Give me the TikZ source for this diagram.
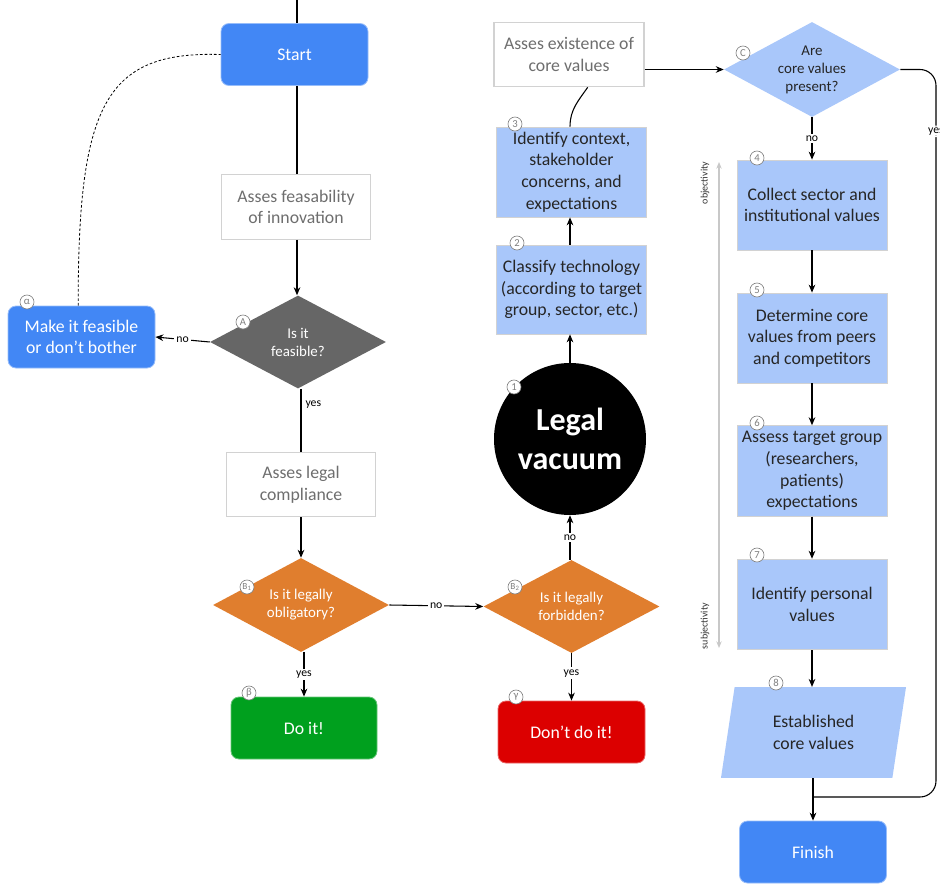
\documentclass[tikz,border=0pt]{standalone}
\usepackage{fontspec}
\setmainfont{Carlito}
\usetikzlibrary{shapes.geometric,arrows.meta,calc}
\definecolor{bblue}{RGB}{66,135,245}
\definecolor{lblue}{RGB}{169,199,250}
\definecolor{dgray}{RGB}{102,102,102}
\definecolor{orng}{RGB}{224,126,46}
\definecolor{grn}{RGB}{0,160,30}
\definecolor{rd}{RGB}{220,0,0}
\definecolor{bord}{RGB}{210,210,210}
\definecolor{gtext}{RGB}{110,110,110}
\definecolor{axisc}{RGB}{200,200,200}
\tikzset{
  base/.style={font=\fontsize{13.3}{16.2}\selectfont, align=center, inner sep=0pt},
  term/.style={base, rectangle, rounded corners=6pt, fill=bblue, draw=bblue!55!white, line width=0.6pt, text=white, minimum width=110.25pt, minimum height=46.5pt},
  plainbox/.style={base, rectangle, draw=bord, fill=white, line width=0.8pt, text=gtext, minimum width=112pt, minimum height=48.5pt},
  proc/.style={base, rectangle, fill=lblue, draw=bord, line width=0.6pt, text=black!85, minimum width=112.5pt, minimum height=67.5pt},
  dia/.style={base, diamond, aspect=1.9, minimum width=132pt, minimum height=70pt, draw=none, font=\fontsize{11.2}{13.5}\selectfont},
  arr/.style={-{Stealth[length=6pt,width=5pt]}, line width=0.8pt},
  ln/.style={line width=0.8pt},
  lbl/.style={font=\fontsize{8.8}{9}\selectfont, fill=white, inner sep=1.5pt},
  num/.style={circle, draw=gray, fill=white, text=gray, inner sep=0pt, minimum size=10.5pt, line width=0.5pt, font=\fontsize{8}{8}\selectfont},
  axlbl/.style={font=\fontsize{7.5}{7.5}\selectfont, rotate=90, text=black!80},
}
\begin{document}
\begin{tikzpicture}[x=0.75pt,y=-0.75pt]
\useasboundingbox (0,0) rectangle (940,885);

% left column
\node[term] (start) at (294.5,54.5) {Start};
\node[plainbox] (feas) at (296,207) {Asses feasability\\of innovation};
\node[dia, fill=dgray, text=white, minimum width=132pt, minimum height=69.75pt] (A) at (298,342) {Is it\\feasible?};
\node[term] (alpha) at (81.5,337) {Make it feasible\\or don’t bother};
\node[plainbox] (legal) at (301,484.5) {Asses legal\\compliance};
\node[dia, fill=orng, text=white, minimum height=70.5pt] (B1) at (301,605) {Is it legally\\obligatory?};
\node[term, fill=grn, draw=grn!60!white, minimum width=109.5pt] (doit) at (304,728) {Do it!};

% middle column
\node[dia, fill=orng, text=white, minimum height=69.75pt] (B2) at (571.5,606.5) {Is it legally\\forbidden?};
\node[term, fill=rd, draw=rd!60!white] (dont) at (571.5,732) {Don’t do it!};
\node[circle, fill=black, text=white, minimum size=114pt, inner sep=0pt, align=center,
      font=\fontsize{24}{29}\selectfont\bfseries] (vac) at (570,439) {Legal\\vacuum};
\node[proc, minimum width=113pt, minimum height=66.75pt] (c2) at (571.5,289.5) {Classify technology\\(according to target\\group, sector, etc.)};
\node[proc, minimum width=113pt] (c3) at (571.5,172) {Identify context,\\stakeholder\\concerns, and\\expectations};
\node[plainbox, minimum width=112.5pt] (exist) at (569,54.5) {Asses existence of\\core values};

% right column
\node[dia, fill=lblue, text=black!85, minimum height=71.25pt] (C) at (812,69.5) {Are\\core values\\present?};
\node[proc] (c4) at (812,205) {Collect sector and\\institutional values};
\node[proc] (c5) at (812,338) {Determine core\\values from peers\\and competitors};
\node[proc, minimum height=68pt] (c6) at (812,471) {Assess target group\\(researchers,\\patients)\\expectations};
\node[proc, minimum height=68pt] (c7) at (812,604.5) {Identify personal\\values};
\node[base, trapezium, trapezium left angle=68.2, trapezium right angle=111.8, trapezium stretches body,
      fill=lblue, draw=none, text=black!85, minimum width=138.75pt, minimum height=68pt] (est) at (813.5,732.5) {Established\\core values};
\node[term] (finish) at (813,852) {Finish};

% coordinates
\coordinate (top) at (297,0);
\coordinate (rx) at (936,0);
\coordinate (join) at (813,797);
\coordinate (objT) at (719,162);
\coordinate (objB) at (719,648);

% connectors, left column
\draw[ln] (top) -- (top |- start.north);
\draw[ln] (top |- start.south) -- (top |- feas.north);
\draw[arr] (top |- feas.south) -- (top |- A.north);
\draw[arr] (A.west) -- node[lbl]{no} (alpha.east);
\draw[ln, line width=0.6pt, dash pattern=on 2pt off 1.5pt] ([xshift=-2.5pt]alpha.north) .. controls (78,105) and (105,51) .. (start.west);
\draw[ln] (A.south -| legal.north) -- node[pos=0.25, right, font=\fontsize{8.8}{9}\selectfont, inner sep=3pt]{yes} (legal.north);
\draw[arr] (legal.south) -- (B1.north);
\draw[arr] (B1.south -| doit.north) -- node[lbl]{yes} (doit.north);
\draw[arr] (B1.east) -- node[lbl]{no} (B2.west);

% middle column
\draw[arr] (B2.south -| dont.north) -- node[lbl, pos=0.42]{yes} (dont.north);
\draw[arr] (B2.north -| vac.south) -- node[lbl]{no} (vac.south);
\draw[arr] (vac.north) -- (vac.north |- c2.south);
\draw[arr] (c2.north -| vac.north) -- (vac.north |- c3.south);
\draw[ln] (c3.north -| vac.north) to[out=90, in=235] ([xshift=14pt]exist.south);
\draw[arr] (exist.east |- C.west) -- (C.west);

% right column
\draw[arr] (C.south) -- node[lbl]{no} (c4.north);
\draw[arr] (c4.south) -- (c5.north);
\draw[arr] (c5.south) -- (c6.north);
\draw[arr] (c6.south) -- (c7.north);
\draw[arr] (c7.south) -- (c7.south |- est.north);
\draw[arr] (join |- est.south) -- (finish.north);
\draw[ln, rounded corners=12pt] (C.east) -- (C.east -| rx) -- node[lbl, pos=0.085]{yes} (rx |- join) -- (join);

% objectivity / subjectivity axis
\draw[axisc, line width=0.8pt, {Stealth[length=5pt,width=4pt]}-{Stealth[length=5pt,width=4pt]}] (objT) -- (objB);
\node[axlbl] (objl) at (705,183) {objectivity};
\node[axlbl] (subl) at (705,626) {subjectivity};

% numbered markers
\node[num] (nalpha) at (27,302) {α};
\node[num] (nA) at (243,322) {A};
\node[num, font=\fontsize{7}{7}\selectfont] (nB1) at (247,587) {B\textsubscript{1}};
\node[num, font=\fontsize{7}{7}\selectfont] (nB2) at (515,587) {B\textsubscript{2}};
\node[num] (nbeta) at (249,693) {β};
\node[num] (ngamma) at (516,697) {γ};
\node[num] (n1) at (514,387) {1};
\node[num] (n2) at (517,243) {2};
\node[num] (n3) at (515,124) {3};
\node[num] (nC) at (743,53) {C};
\node[num] (n4) at (757,158) {4};
\node[num] (n5) at (757,290) {5};
\node[num] (n6) at (757,423) {6};
\node[num] (n7) at (757,555) {7};
\node[num] (n8) at (776,683) {8};
\end{tikzpicture}
\end{document}
